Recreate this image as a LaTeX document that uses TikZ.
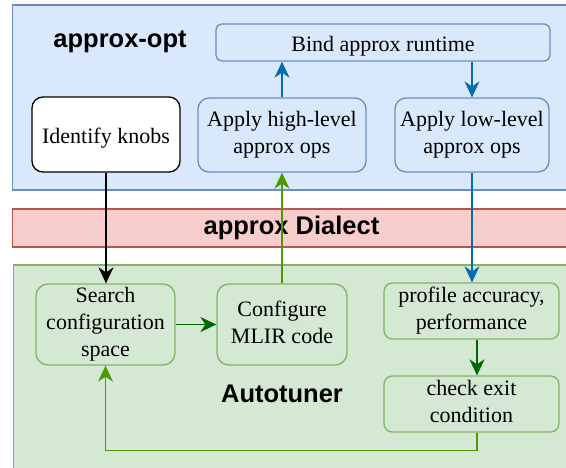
\documentclass[tikz,border=0pt]{standalone}
\usepackage{fontspec}
\setmainfont{Liberation Serif}
\newfontfamily\labelfont{Liberation Sans}
\usetikzlibrary{arrows.meta}
\definecolor{bfill}{HTML}{DAE8FC}
\definecolor{bline}{HTML}{6C8EBF}
\definecolor{rfill}{HTML}{F8CECC}
\definecolor{rline}{HTML}{B85450}
\definecolor{gfill}{HTML}{D5E8D4}
\definecolor{gline}{HTML}{82B366}
\definecolor{barrow}{HTML}{006EAF}
\definecolor{garrow}{HTML}{4D9900}
\definecolor{darrow}{HTML}{006600}
\tikzset{
  box/.style={draw, line width=1.3pt, align=center, inner sep=0pt,
    font=\fontsize{22pt}{27pt}\selectfont,
    execute at begin node={\rule{0pt}{22pt}},
    execute at end node={\rule[-4.8pt]{0pt}{4.8pt}}},
  bluebox/.style={box, draw=bline, fill=bfill},
  greenbox/.style={box, draw=gline, fill=gfill},
  whitebox/.style={box, draw=black, fill=white},
  lbl/.style={font=\labelfont\bfseries\fontsize{25.5pt}{30pt}\selectfont, inner sep=0pt},
  conn/.style={line width=1.5pt, -{Stealth[length=16pt,width=15pt,inset=5pt]}},
  bluearr/.style={conn, draw=barrow},
  greenarr/.style={conn, draw=garrow},
  darkarr/.style={conn, draw=darrow},
  blackarr/.style={conn, draw=black},
}
\begin{document}
\begin{tikzpicture}[x=1pt,y=-1pt]
\useasboundingbox (0,0) rectangle (566,467);
\clip (0,0) rectangle (566,467);
\fill[white] (0,0) rectangle (566,467);
% containers
\draw[line width=1.3pt, draw=bline, fill=bfill] (12.5,5) rectangle (610,190);
\draw[line width=1.3pt, draw=rline, fill=rfill] (12.5,209) rectangle (610,247);
\draw[line width=1.3pt, draw=gline, fill=gfill] (13.5,265) rectangle (610,520);
% labels
\node[lbl] (optlbl) at (120,42) {approx-opt};
\node[lbl] (diallbl) at (291.5,228) {approx Dialect};
\node[lbl] (autolbl) at (282,394) {Autotuner};
% nodes
\node[bluebox, minimum width=334pt, minimum height=37pt, rounded corners=5.6pt] (bind) at (383,42.5) {Bind approx runtime};
\node[whitebox, minimum width=148pt, minimum height=75pt, rounded corners=11pt] (knobs) at (106,134.5) {Identify knobs};
\node[bluebox, minimum width=168pt, minimum height=74pt, rounded corners=11pt] (high) at (282,135) {Apply high-level\\approx ops};
\node[bluebox, minimum width=154pt, minimum height=74pt, rounded corners=11pt] (low) at (472,135) {Apply low-level\\approx ops};
\node[greenbox, minimum width=139pt, minimum height=81pt, rounded corners=12pt] (search) at (105.5,324.5) {Search\\configuration\\space};
\node[greenbox, minimum width=130pt, minimum height=81pt, rounded corners=12pt] (config) at (282,324.5) {Configure\\MLIR code};
\node[greenbox, minimum width=175pt, minimum height=56pt, rounded corners=8.4pt] (profile) at (471.5,311) {profile accuracy,\\performance};
\node[greenbox, minimum width=175pt, minimum height=56pt, rounded corners=8.4pt] (check) at (471.5,404) {check exit\\condition};
% connectors
\draw[blackarr] (knobs.south) -- (knobs.south |- search.north);
\draw[greenarr] (config.north) -- (config.north |- high.south);
\draw[bluearr] (high.north) -- (high.north |- bind.south);
\draw[bluearr] (bind.south -| low.north) -- (low.north);
\draw[bluearr] (low.south) -- (low.south |- profile.north);
\draw[darkarr] (search.east) -- (config.west);
\draw[darkarr] ([xshift=5.5pt]profile.south) -- ([xshift=5.5pt]check.north);
\draw[greenarr] ([xshift=5.5pt]check.south) -- ++(0,18) -| (search.south);
\end{tikzpicture}
\end{document}
